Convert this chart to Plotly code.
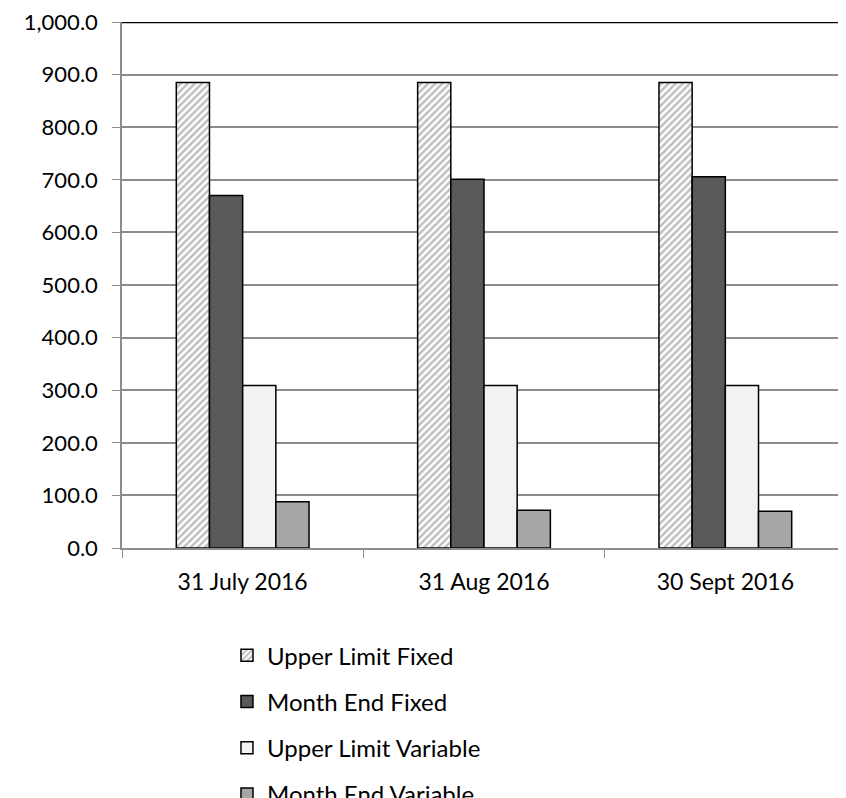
import plotly.graph_objects as go

categories = ["31 July 2016", "31 Aug 2016", "30 Sept 2016"]
upper_limit_fixed = [885.0, 885.0, 885.0]
month_end_fixed = [670.0, 701.0, 706.0]
upper_limit_variable = [309.0, 309.0, 309.0]
month_end_variable = [88.0, 72.0, 70.0]
y_ticks = [0, 100, 200, 300, 400, 500, 600, 700, 800, 900, 1000]

FONT = "Lato, Open Sans, sans-serif"
line = dict(color="black", width=1.5)

fig = go.Figure()
fig.add_trace(go.Bar(name="Upper Limit Fixed", x=categories, y=upper_limit_fixed,
                     marker=dict(color="white", line=line,
                                 pattern=dict(shape="/", fgcolor="#808080", bgcolor="white",
                                              size=5, solidity=0.5)),
                     legendgroup="a"))
fig.add_trace(go.Bar(name="Month End Fixed", x=categories, y=month_end_fixed,
                     marker=dict(color="#595959", line=line), legendgroup="b"))
fig.add_trace(go.Bar(name="Upper Limit Variable", x=categories, y=upper_limit_variable,
                     marker=dict(color="#f2f2f2", line=line), legendgroup="c"))
fig.add_trace(go.Bar(name="Month End Variable", x=categories, y=month_end_variable,
                     marker=dict(color="#a6a6a6", line=line), legendgroup="d"))

fig.add_shape(type="line", xref="paper", yref="y", x0=0, x1=1, y0=1000, y1=1000,
              line=dict(color="black", width=2.5), layer="above")

fig.update_layout(
    width=846, height=840,
    margin=dict(l=114, r=8, t=14, b=300),
    paper_bgcolor="white", plot_bgcolor="white",
    barmode="group", bargap=0.45, bargroupgap=0,
    font=dict(family=FONT, size=22, color="black"),
    showlegend=True,
    legend=dict(orientation="v", x=0.145, xanchor="left", y=-0.162, yanchor="top",
                font=dict(size=24), tracegroupgap=12, traceorder="grouped",
                itemwidth=30),
    xaxis=dict(showline=True, linecolor="#8c8c8c", linewidth=1.5,
               ticks="outside", ticklen=8, tickcolor="#8c8c8c", tickson="boundaries",
               showgrid=False, tickfont=dict(size=23), ticklabelstandoff=13,
               automargin=False),
    yaxis=dict(range=[0, 1000], tickvals=y_ticks, tickformat=",.1f",
               showline=True, linecolor="#8c8c8c", linewidth=1.5,
               ticks="outside", ticklen=8, tickcolor="#8c8c8c",
               showgrid=True, gridcolor="#8c8c8c", gridwidth=1.5,
               zeroline=False, tickfont=dict(size=22), ticklabelstandoff=10,
               ticklabeloverflow="allow", automargin=False),
)

fig.write_html("out.html")
